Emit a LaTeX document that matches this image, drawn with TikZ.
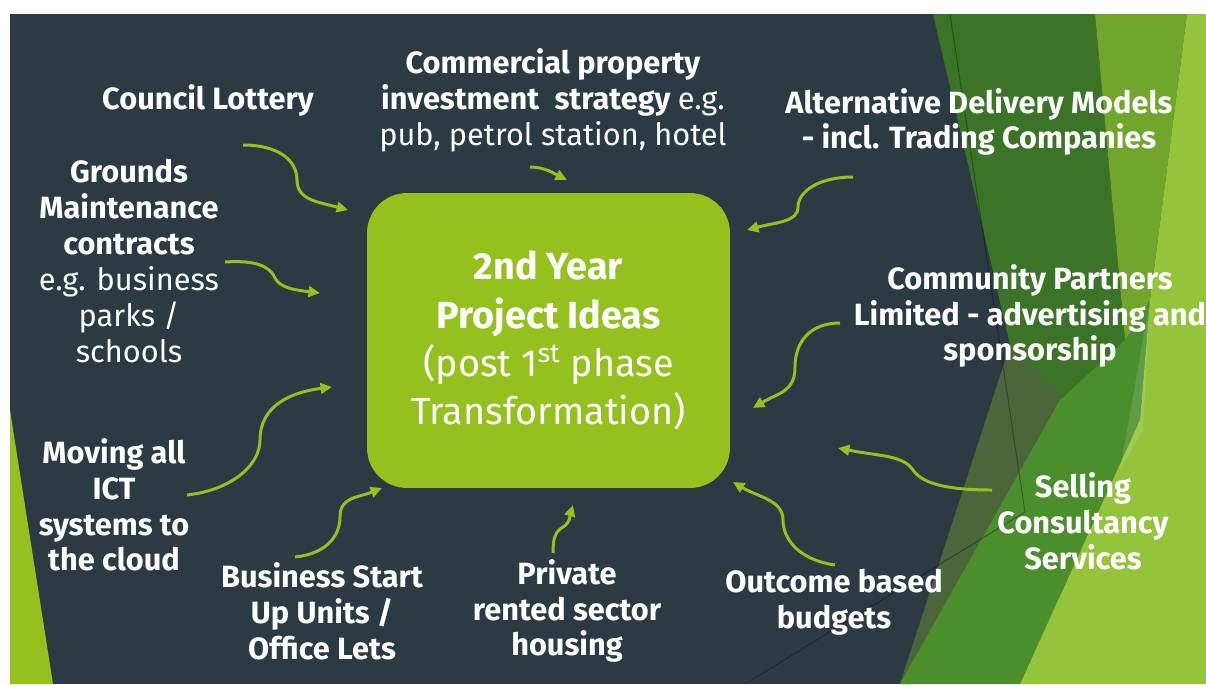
\documentclass[tikz,border=0pt]{standalone}
\usepackage{fontspec}
\setmainfont{Fira Sans}
\usepackage{tikz}
\usetikzlibrary{arrows.meta, positioning}

\definecolor{slate}{HTML}{2C3A43}
\definecolor{lime}{HTML}{95C11F}
\definecolor{leafdark}{HTML}{3B7427}
\definecolor{leafgrey}{HTML}{4C663C}
\definecolor{leafmid}{HTML}{4B8E2C}
\definecolor{leafolive}{HTML}{71A52B}
\definecolor{leaflight}{HTML}{93C43A}

\begin{document}
\begin{tikzpicture}[x=0.02cm,y=-0.02cm,>={Triangle[length=6.5pt,width=6pt]},
                    idea node/.style={text=white,align=center,font=\bfseries\fontsize{17.5}{20.4}\selectfont},
                    hub node/.style={fill=lime,rounded corners=0.8cm,minimum width=7.26cm,minimum height=5.9cm,
                                     text=white,align=center,font=\fontsize{21.5}{27.4}\selectfont},
                    link/.style={->,draw=lime,line width=1.7pt}]

  \useasboundingbox (0,0) rectangle (1206,684);

  % backdrop
  \fill[white] (0,0) rectangle (1206,684);
  \fill[slate] (10,14) rectangle (1206,684);
  \fill[leafdark] (933,14) -- (1095,14) -- (1125,340) -- (1060,400) -- (1010,345) -- cycle;
  \fill[leafgrey] (1010,345) -- (1062,398) -- (910,684) -- (900,684) -- cycle;
  \fill[leafmid] (1060,400) -- (1125,340) -- (1150,300) -- (1140,420) -- (1020,684) -- (900,684) -- cycle;
  \fill[leafolive] (1095,14) -- (1187,14) -- (1150,300) -- (1125,340) -- cycle;
  \fill[leaflight] (1187,14) -- (1206,14) -- (1206,684) -- (1020,684) -- (1140,420) -- (1150,300) -- cycle;
  \fill[white,opacity=0.12] (1150,300) -- (1143,430) -- (1120,470) -- cycle;
  \draw[black,opacity=0.3,line width=0.6pt] (950,14) -- (1025,512) -- (745,684);
  \fill[lime] (10,410) -- (53,684) -- (10,684) -- cycle;

  % central idea
  \node[hub node] (ideas) at (548.5,340.5)
    {\textbf{2nd Year}\\\textbf{Project Ideas}\\(post 1\textsuperscript{st} phase\\Transformation)};

  % surrounding ideas
  \node[idea node] (lottery) at (208,100) {Council Lottery};
  \node[idea node] (commercial) at (553,100)
    {Commercial property\\investment\enspace strategy \mdseries e.g.\\\mdseries pub, petrol station, hotel};
  \node[idea node] (altmodels) at (979,122) {Alternative Delivery Models\\- incl. Trading Companies};
  \node[idea node] (grounds) at (129,261)
    {Grounds\\Maintenance\\contracts\\\mdseries e.g. business\\\mdseries parks /\\\mdseries schools};
  \node[idea node] (community) at (1030,316) {Community Partners\\Limited - advertising and\\sponsorship};
  \node[idea node] (ictcloud) at (114,505) {Moving all\\ICT\\systems to\\the cloud};
  \node[idea node] (startup) at (322,611) {Business Start\\Up Units /\\Office Lets};
  \node[idea node] (housing) at (567,611) {Private\\rented sector\\housing};
  \node[idea node] (outcome) at (834,602) {Outcome based\\budgets};
  \node[idea node] (consultancy) at (1083,521) {Selling\\Consultancy\\Services};

  % arrow ends
  \coordinate (lottery-t) at (243,145);   \coordinate (lottery-m) at (297,180);   \coordinate (lottery-h) at (348,210);
  \coordinate (grounds-t) at (225,262);   \coordinate (grounds-m) at (275,278);   \coordinate (grounds-h) at (320,293);
  \coordinate (ictcloud-t) at (187,495);  \coordinate (ictcloud-m) at (260,440);  \coordinate (ictcloud-h) at (332,387);
  \coordinate (startup-t) at (295,557);   \coordinate (startup-m) at (340,517);   \coordinate (startup-h) at (382,488);
  \coordinate (housing-t) at (553,553);   \coordinate (housing-m) at (563,527);   \coordinate (housing-h) at (573,505);
  \coordinate (outcome-t) at (835,565);   \coordinate (outcome-m) at (783,520);   \coordinate (outcome-h) at (733,482);
  \coordinate (consult-t) at (992,490);   \coordinate (consult-m) at (913,470);   \coordinate (consult-h) at (838,448);
  \coordinate (community-t) at (840,323); \coordinate (community-m) at (795,367); \coordinate (community-h) at (753,408);
  \coordinate (altmodels-t) at (853,177); \coordinate (altmodels-m) at (798,207); \coordinate (altmodels-h) at (747,230);
  \coordinate (commercial-t) at (530,167); \coordinate (commercial-h) at (567,180);

  \draw[link] (lottery-t) .. controls +(35,0) and +(0,-20) .. (lottery-m) .. controls +(0,20) and +(-30,-8) .. (lottery-h);
  \draw[link] (grounds-t) .. controls +(30,-2) and +(-5,-12) .. (grounds-m) .. controls +(5,10) and +(-25,-3) .. (grounds-h);
  \draw[link] (ictcloud-t) .. controls +(45,-5) and +(0,25) .. (ictcloud-m) .. controls +(0,-35) and +(-40,5) .. (ictcloud-h);
  \draw[link] (startup-t) .. controls +(30,-3) and +(0,20) .. (startup-m) .. controls +(0,-20) and +(-25,10) .. (startup-h);
  \draw[link] (housing-t) .. controls +(0,-15) and +(-8,5) .. (housing-m) .. controls +(8,-5) and +(-3,10) .. (housing-h);
  \draw[link] (outcome-t) .. controls +(-35,-5) and +(0,20) .. (outcome-m) .. controls +(0,-20) and +(25,15) .. (outcome-h);
  \draw[link] (consult-t) .. controls +(-40,0) and +(10,15) .. (consult-m) .. controls +(-10,-15) and +(40,8) .. (consult-h);
  \draw[link] (community-t) .. controls +(-30,0) and +(0,-25) .. (community-m) .. controls +(0,25) and +(25,-15) .. (community-h);
  \draw[link] (altmodels-t) .. controls +(-35,0) and +(0,-15) .. (altmodels-m) .. controls +(0,15) and +(30,-8) .. (altmodels-h);
  \draw[link] (commercial-t) .. controls +(15,0) and +(-12,-6) .. (commercial-h);

\end{tikzpicture}
\end{document}
